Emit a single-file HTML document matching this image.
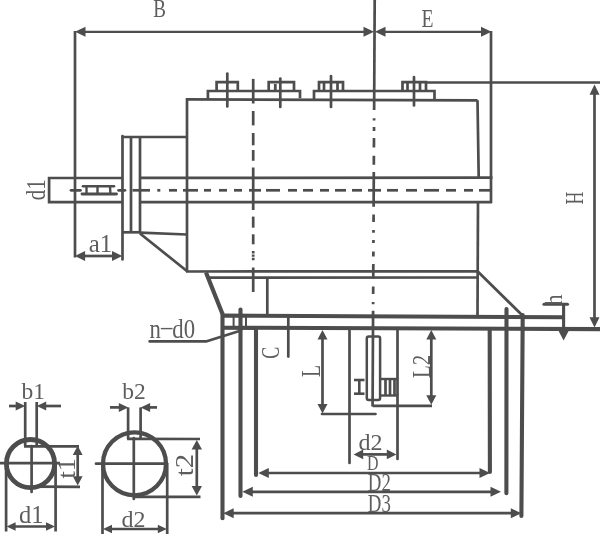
<!DOCTYPE html>
<html><head><meta charset="utf-8"><title>drawing</title>
<style>
html,body{margin:0;padding:0;background:#ffffff;}
body{width:600px;height:541px;overflow:hidden;font-family:"Liberation Serif",serif;}
svg{display:block}
svg text{font-family:"Liberation Serif",serif;}
</style></head><body>
<svg width="600" height="541" viewBox="0 0 600 541">
<rect width="600" height="541" fill="#ffffff"/>
<g stroke="#4d4d4d" fill="none">
<line x1="84.5" y1="31.8" x2="364.5" y2="31.8" stroke-width="2.3"/>
<polygon points="75,31.8 85.5,26.8 85.5,36.8" fill="#4d4d4d" stroke="none"/>
<polygon points="374,31.8 363.5,36.8 363.5,26.8" fill="#4d4d4d" stroke="none"/>
<line x1="384.5" y1="31.8" x2="482.0" y2="31.8" stroke-width="2.3"/>
<polygon points="375,31.8 385.5,26.8 385.5,36.8" fill="#4d4d4d" stroke="none"/>
<polygon points="491.5,31.8 481.0,36.8 481.0,26.8" fill="#4d4d4d" stroke="none"/>
<line x1="75" y1="31" x2="75" y2="257.5" stroke-width="2.7"/>
<line x1="491" y1="31" x2="491" y2="203" stroke-width="2.7"/>
<line x1="426" y1="82.5" x2="600" y2="82.5" stroke-width="2.7"/>
<line x1="594.5" y1="92" x2="594.5" y2="319" stroke-width="2.7"/>
<polygon points="594.5,84.4 599.5,94.7 589.5,94.7" fill="#4d4d4d" stroke="none"/>
<polygon points="594.5,327.5 589.5,317.2 599.5,317.2" fill="#4d4d4d" stroke="none"/>
<polyline points="216.6,91.0 216.6,82.2 237.8,82.2 237.8,91.0" fill="none" stroke-width="2.7" stroke-linejoin="miter" stroke-linecap="butt"/>
<line x1="227.3" y1="73.5" x2="227.3" y2="106.5" stroke-width="2.7" stroke-linecap="round"/>
<polyline points="268.7,91.0 268.7,82.2 294,82.2 294,91.0" fill="none" stroke-width="2.7" stroke-linejoin="miter" stroke-linecap="butt"/>
<line x1="275.3" y1="84" x2="275.3" y2="91" stroke-width="2.8"/>
<line x1="280.3" y1="78.5" x2="280.3" y2="107" stroke-width="2.7" stroke-linecap="round"/>
<polyline points="207.9,99.5 207.9,91.0 300,91.0 300,98.3" fill="none" stroke-width="2.7" stroke-linejoin="miter" stroke-linecap="butt"/>
<polyline points="319,91.0 319,82.2 343,82.2 343,91.0" fill="none" stroke-width="2.7" stroke-linejoin="miter" stroke-linecap="butt"/>
<line x1="324" y1="82.2" x2="324" y2="91.0" stroke-width="2.7"/>
<line x1="337.5" y1="82.2" x2="337.5" y2="91.0" stroke-width="2.7"/>
<line x1="331" y1="76" x2="331" y2="107" stroke-width="2.7" stroke-linecap="round"/>
<polyline points="402.5,91.0 402.5,82.2 426,82.2 426,91.0" fill="none" stroke-width="2.7" stroke-linejoin="miter" stroke-linecap="butt"/>
<line x1="407.5" y1="82.2" x2="407.5" y2="91.0" stroke-width="2.7"/>
<line x1="420" y1="82.2" x2="420" y2="91.0" stroke-width="2.7"/>
<line x1="414" y1="77" x2="414" y2="105.5" stroke-width="2.7" stroke-linecap="round"/>
<polyline points="314,99.5 314,91.0 434.5,91.0 434.5,100.3" fill="none" stroke-width="2.7" stroke-linejoin="miter" stroke-linecap="butt"/>
<line x1="186" y1="99.4" x2="477.5" y2="100.3" stroke-width="2.7"/>
<line x1="187" y1="98.2" x2="187" y2="271.5" stroke-width="2.7"/>
<polyline points="477.5,100.3 478.7,177" fill="none" stroke-width="2.7" stroke-linejoin="miter" stroke-linecap="butt"/>
<line x1="478" y1="203" x2="477.5" y2="315" stroke-width="2.7"/>
<line x1="186" y1="271.5" x2="478.5" y2="271.3" stroke-width="2.7"/>
<line x1="208" y1="277.7" x2="477.5" y2="277.5" stroke-width="2.7"/>
<line x1="267.3" y1="278" x2="267.3" y2="314" stroke-width="2.7"/>
<polyline points="122.5,178 49.1,178 49.1,202.2 122.5,202.2" fill="none" stroke-width="2.7" stroke-linejoin="miter" stroke-linecap="butt"/>
<line x1="140" y1="177.9" x2="492.5" y2="177.7" stroke-width="2.7"/>
<line x1="140" y1="202.2" x2="492" y2="202.1" stroke-width="2.7"/>
<line x1="83" y1="186.3" x2="114" y2="186.3" stroke-width="2.6" stroke-linecap="round"/>
<line x1="82" y1="194" x2="116.5" y2="194" stroke-width="2.9" stroke-linecap="round"/>
<line x1="86.5" y1="186" x2="86.5" y2="194" stroke-width="2.4"/>
<line x1="97.5" y1="186" x2="97.5" y2="194" stroke-width="2.4"/>
<line x1="110" y1="186" x2="110.4" y2="194" stroke-width="2.4"/>
<line x1="71" y1="190.3" x2="80.5" y2="190.3" stroke-width="2.7" stroke-linecap="round"/>
<line x1="118.5" y1="190.3" x2="125" y2="190.3" stroke-width="2.7" stroke-linecap="round"/>
<line x1="132.5" y1="190.3" x2="150" y2="190.3" stroke-width="2.7"/>
<line x1="157.3" y1="190.3" x2="160.3" y2="190.3" stroke-width="2.7"/>
<line x1="169" y1="190.3" x2="177" y2="190.3" stroke-width="2.7"/>
<line x1="183" y1="190.3" x2="198" y2="190.3" stroke-width="2.7"/>
<line x1="204" y1="190.3" x2="211" y2="190.3" stroke-width="2.7"/>
<line x1="219" y1="190.3" x2="227" y2="190.3" stroke-width="2.7"/>
<line x1="234" y1="190.3" x2="242" y2="190.3" stroke-width="2.7"/>
<line x1="249" y1="190.3" x2="261" y2="190.3" stroke-width="2.7"/>
<line x1="266" y1="190.3" x2="280" y2="190.3" stroke-width="2.7"/>
<line x1="288" y1="190.3" x2="297" y2="190.3" stroke-width="2.7"/>
<line x1="303" y1="190.3" x2="313" y2="190.3" stroke-width="2.7"/>
<line x1="320" y1="190.3" x2="329" y2="190.3" stroke-width="2.7"/>
<line x1="335" y1="190.3" x2="346" y2="190.3" stroke-width="2.7"/>
<line x1="352" y1="190.3" x2="362" y2="190.3" stroke-width="2.7"/>
<line x1="368" y1="190.3" x2="381" y2="190.3" stroke-width="2.7"/>
<line x1="387" y1="190.3" x2="398" y2="190.3" stroke-width="2.7"/>
<line x1="406" y1="190.3" x2="417" y2="190.3" stroke-width="2.7"/>
<line x1="424" y1="190.3" x2="439" y2="190.3" stroke-width="2.7"/>
<line x1="446" y1="190.3" x2="456" y2="190.3" stroke-width="2.7"/>
<line x1="464" y1="190.3" x2="473" y2="190.3" stroke-width="2.7"/>
<line x1="479" y1="190.3" x2="491" y2="190.3" stroke-width="2.7"/>
<line x1="122.5" y1="136" x2="122.5" y2="259.5" stroke-width="2.7" stroke-linecap="round"/>
<line x1="131" y1="137" x2="131" y2="232" stroke-width="2.7"/>
<line x1="140" y1="137" x2="140" y2="233.5" stroke-width="2.7"/>
<line x1="121.5" y1="137" x2="187" y2="137" stroke-width="2.7"/>
<line x1="122.5" y1="232.3" x2="140" y2="232.3" stroke-width="2.7"/>
<line x1="140" y1="232.6" x2="187" y2="234.5" stroke-width="2.7"/>
<line x1="140" y1="233.5" x2="187.5" y2="271.5" stroke-width="2.7"/>
<line x1="84.1" y1="256" x2="113.0" y2="256" stroke-width="2.7"/>
<polygon points="74.8,256 85.1,251.1 85.1,260.9" fill="#4d4d4d" stroke="none"/>
<polygon points="122.3,256 112.0,260.9 112.0,251.1" fill="#4d4d4d" stroke="none"/>
<line x1="253.2" y1="78.9" x2="253.2" y2="103.5" stroke-width="2.7"/>
<line x1="253.2" y1="111" x2="253.2" y2="125.4" stroke-width="2.7"/>
<line x1="253.2" y1="133" x2="253.2" y2="145.3" stroke-width="2.7"/>
<line x1="253.2" y1="150" x2="253.2" y2="160.8" stroke-width="2.7"/>
<line x1="253.2" y1="167.5" x2="253.2" y2="210" stroke-width="2.7"/>
<line x1="253.2" y1="216.6" x2="253.2" y2="227.7" stroke-width="2.7"/>
<line x1="253.2" y1="234.3" x2="253.2" y2="244.3" stroke-width="2.7"/>
<line x1="253.2" y1="267.5" x2="253.2" y2="292" stroke-width="2.7"/>
<line x1="253.2" y1="251" x2="253.2" y2="261" stroke-width="2.7" stroke-dasharray="2.4 1"/>
<line x1="374.7" y1="0" x2="374.13" y2="110" stroke-width="2.7"/>
<line x1="374.09" y1="118.2" x2="374.07" y2="120.4" stroke-width="2.7"/>
<line x1="374.04" y1="127" x2="374.02" y2="131" stroke-width="2.7"/>
<line x1="373.98" y1="138" x2="373.93" y2="147.6" stroke-width="2.7"/>
<line x1="373.89" y1="155.8" x2="373.84" y2="164.7" stroke-width="2.7"/>
<line x1="373.81" y1="172" x2="373.62" y2="206.8" stroke-width="2.7"/>
<line x1="373.59" y1="214.4" x2="373.55" y2="222" stroke-width="2.7"/>
<line x1="373.5" y1="230" x2="373.49" y2="232.8" stroke-width="2.7"/>
<line x1="373.45" y1="240" x2="373.44" y2="243" stroke-width="2.7"/>
<line x1="373.39" y1="251.4" x2="373.37" y2="256.5" stroke-width="2.7"/>
<line x1="373.33" y1="264" x2="373.25" y2="278.6" stroke-width="2.7"/>
<line x1="373.21" y1="286.4" x2="373.17" y2="294" stroke-width="2.7"/>
<line x1="373.13" y1="302" x2="373.12" y2="304.2" stroke-width="2.7"/>
<line x1="373.08" y1="310.8" x2="372.59" y2="406.5" stroke-width="2.7"/>
<line x1="206" y1="272.5" x2="222.5" y2="314" stroke-width="4.2"/>
<line x1="477.5" y1="271.3" x2="522.5" y2="315.5" stroke-width="2.8"/>
<line x1="221" y1="315.6" x2="565" y2="317.2" stroke-width="4.1"/>
<line x1="221" y1="327.7" x2="600" y2="329.1" stroke-width="4.1"/>
<line x1="233.6" y1="315" x2="233.6" y2="328" stroke-width="2"/>
<line x1="246" y1="315" x2="246" y2="328" stroke-width="2"/>
<line x1="222.5" y1="314" x2="222.5" y2="518.2" stroke-width="4.1" stroke-linecap="round"/>
<line x1="240.5" y1="309.5" x2="240.5" y2="496" stroke-width="4.1" stroke-linecap="round"/>
<line x1="256" y1="330" x2="256" y2="475" stroke-width="4.1" stroke-linecap="round"/>
<line x1="489.7" y1="330" x2="489.9" y2="472" stroke-width="4.1" stroke-linecap="round"/>
<line x1="506.5" y1="309" x2="506.4" y2="493.3" stroke-width="4.1" stroke-linecap="round"/>
<line x1="522.7" y1="315" x2="521.4" y2="516" stroke-width="4.1" stroke-linecap="round"/>
<line x1="267.8" y1="473" x2="480.5" y2="473" stroke-width="2.7"/>
<polygon points="258.3,473 268.8,468.0 268.8,478.0" fill="#4d4d4d" stroke="none"/>
<polygon points="490,473 479.5,478.0 479.5,468.0" fill="#4d4d4d" stroke="none"/>
<line x1="251.8" y1="491.8" x2="491.5" y2="491.8" stroke-width="2.7"/>
<polygon points="242.3,491.8 252.8,486.8 252.8,496.8" fill="#4d4d4d" stroke="none"/>
<polygon points="501,491.8 490.5,496.8 490.5,486.8" fill="#4d4d4d" stroke="none"/>
<line x1="232.7" y1="513.2" x2="511.8" y2="513.2" stroke-width="2.7"/>
<polygon points="223.2,513.2 233.7,508.2 233.7,518.2" fill="#4d4d4d" stroke="none"/>
<polygon points="521.3,513.2 510.8,518.2 510.8,508.2" fill="#4d4d4d" stroke="none"/>
<polyline points="149.6,341.4 206,341.4 241,330.5" fill="none" stroke-width="2.6" stroke-linejoin="round" stroke-linecap="round"/>
<line x1="288.3" y1="317" x2="288.3" y2="356.6" stroke-width="2.7" stroke-linecap="round"/>
<line x1="322.5" y1="338.5" x2="322.5" y2="405.0" stroke-width="2.7"/>
<polygon points="322.5,330 327.5,339.5 317.5,339.5" fill="#4d4d4d" stroke="none"/>
<polygon points="322.5,413.5 317.5,404.0 327.5,404.0" fill="#4d4d4d" stroke="none"/>
<line x1="322" y1="414" x2="375.5" y2="414" stroke-width="2.7" stroke-linecap="round"/>
<line x1="349.5" y1="328" x2="349.5" y2="463" stroke-width="2.7" stroke-linecap="round"/>
<line x1="397.5" y1="328" x2="397.5" y2="459" stroke-width="2.7" stroke-linecap="round"/>
<line x1="362.2" y1="454.4" x2="387.8" y2="454.4" stroke-width="2.7"/>
<polygon points="353.6,454.4 363.2,449.5 363.2,459.3" fill="#4d4d4d" stroke="none"/>
<polygon points="396.4,454.4 386.8,459.3 386.8,449.5" fill="#4d4d4d" stroke="none"/>
<rect x="366.8" y="336.6" width="13.3" height="63.4" rx="2" fill="none" stroke-width="2.5"/>
<line x1="372.7" y1="405.9" x2="432" y2="405.9" stroke-width="2.7"/>
<line x1="354" y1="380" x2="364.5" y2="380" stroke-width="2.6"/>
<line x1="354" y1="393.7" x2="364.5" y2="393.7" stroke-width="2.6"/>
<line x1="359.3" y1="380" x2="359.3" y2="393.7" stroke-width="2.6"/>
<line x1="380" y1="379" x2="397.5" y2="379" stroke-width="2.4"/>
<line x1="380" y1="395.5" x2="397.5" y2="395.5" stroke-width="2.4"/>
<line x1="385.5" y1="379" x2="385.5" y2="395.5" stroke-width="2.7"/>
<line x1="390" y1="379" x2="390" y2="395.5" stroke-width="2.7"/>
<line x1="394.5" y1="379" x2="394.5" y2="395.5" stroke-width="2.7"/>
<line x1="431.3" y1="338.5" x2="431.3" y2="396.2" stroke-width="2.7"/>
<polygon points="431.3,330 436.3,339.5 426.3,339.5" fill="#4d4d4d" stroke="none"/>
<polygon points="431.3,404.7 426.3,395.2 436.3,395.2" fill="#4d4d4d" stroke="none"/>
<line x1="544" y1="304.2" x2="567.5" y2="304.2" stroke-width="3.1" stroke-linecap="round"/>
<line x1="563.6" y1="304" x2="563.6" y2="332" stroke-width="3.1"/>
<polygon points="563.6,340.5 558.6,331.0 568.6,331.0" fill="#4d4d4d" stroke="none"/>
<circle cx="30.5" cy="463.6" r="24.1" fill="none" stroke-width="4.8"/>
<line x1="25.2" y1="402" x2="25.2" y2="446.3" stroke-width="2.7"/>
<line x1="36.7" y1="402" x2="36.7" y2="446.3" stroke-width="2.7"/>
<line x1="24" y1="446.3" x2="79" y2="446.4" stroke-width="2.7"/>
<line x1="9" y1="406" x2="17" y2="406" stroke-width="2.7"/>
<polygon points="25.2,406 15.7,410.5 15.7,401.5" fill="#4d4d4d" stroke="none"/>
<line x1="45" y1="406" x2="61" y2="406" stroke-width="2.7"/>
<polygon points="36.7,406 46.2,401.5 46.2,410.5" fill="#4d4d4d" stroke="none"/>
<line x1="0" y1="463.2" x2="60" y2="463.2" stroke-width="2.7"/>
<line x1="31.6" y1="446" x2="31.6" y2="492" stroke-width="2.7" stroke-linecap="round"/>
<line x1="35.7" y1="486.6" x2="80" y2="486.9" stroke-width="2.7"/>
<line x1="77.7" y1="454.0" x2="77.7" y2="477.3" stroke-width="2.7"/>
<polygon points="77.7,445.8 82.6,455.0 72.8,455.0" fill="#4d4d4d" stroke="none"/>
<polygon points="77.7,485.5 72.8,476.3 82.6,476.3" fill="#4d4d4d" stroke="none"/>
<line x1="6.1" y1="463" x2="6.1" y2="531.5" stroke-width="2.7"/>
<line x1="55.6" y1="463" x2="55.6" y2="531.5" stroke-width="2.7"/>
<line x1="14.6" y1="526.5" x2="47" y2="526.5" stroke-width="2.7"/>
<polygon points="6.6,526.5 15.6,522.2 15.6,530.8" fill="#4d4d4d" stroke="none"/>
<polygon points="55,526.5 46.0,530.8 46.0,522.2" fill="#4d4d4d" stroke="none"/>
<circle cx="134.5" cy="463.8" r="31.5" fill="none" stroke-width="4.3"/>
<line x1="128.1" y1="407.4" x2="128.1" y2="438.9" stroke-width="2.7"/>
<line x1="140.6" y1="407.4" x2="140.6" y2="438.9" stroke-width="2.7"/>
<line x1="127.1" y1="438.9" x2="200" y2="439" stroke-width="2.7"/>
<line x1="110" y1="407.4" x2="120" y2="407.4" stroke-width="2.7"/>
<polygon points="128.3,407.4 118.8,411.9 118.8,402.9" fill="#4d4d4d" stroke="none"/>
<line x1="149" y1="407.4" x2="157" y2="407.4" stroke-width="2.7"/>
<polygon points="140.6,407.4 150.1,402.9 150.1,411.9" fill="#4d4d4d" stroke="none"/>
<line x1="96" y1="463.7" x2="166" y2="463.7" stroke-width="2.7" stroke-linecap="round"/>
<line x1="133.8" y1="438" x2="133.8" y2="499" stroke-width="2.7" stroke-linecap="round"/>
<line x1="134.7" y1="496.9" x2="200.5" y2="496.9" stroke-width="2.7"/>
<line x1="196.8" y1="448.5" x2="196.8" y2="487.0" stroke-width="2.7"/>
<polygon points="196.8,440 202.0,449.5 191.6,449.5" fill="#4d4d4d" stroke="none"/>
<polygon points="196.8,495.5 191.6,486.0 202.0,486.0" fill="#4d4d4d" stroke="none"/>
<line x1="102.5" y1="463" x2="102.5" y2="534" stroke-width="2.7"/>
<line x1="167.2" y1="463" x2="167.2" y2="534" stroke-width="2.7"/>
<line x1="111" y1="529" x2="158.8" y2="529" stroke-width="2.7"/>
<polygon points="103,529 112.0,524.7 112.0,533.3" fill="#4d4d4d" stroke="none"/>
<polygon points="166.8,529 157.8,533.3 157.8,524.7" fill="#4d4d4d" stroke="none"/>
</g>
<g fill="#5c5c5c" opacity="0.99">
<text x="153.2" y="16.8" font-size="26" text-anchor="start" textLength="12.7" lengthAdjust="spacingAndGlyphs">B</text>
<text x="421.5" y="26.7" font-size="25" text-anchor="start" textLength="12" lengthAdjust="spacingAndGlyphs">E</text>
<text x="88.7" y="251.9" font-size="24.5" text-anchor="start" textLength="23.5" lengthAdjust="spacingAndGlyphs">a1</text>
<text x="149.6" y="338" font-size="27" text-anchor="start" textLength="45.5" lengthAdjust="spacingAndGlyphs">n<tspan dy="-3.2">–</tspan><tspan dy="3.2">d0</tspan></text>
<text x="358.5" y="450" font-size="24" text-anchor="start" textLength="24" lengthAdjust="spacingAndGlyphs">d2</text>
<text x="367" y="470" font-size="22" text-anchor="start" textLength="11.5" lengthAdjust="spacingAndGlyphs">D</text>
<text x="367.8" y="490.7" font-size="24.3" text-anchor="start" textLength="23" lengthAdjust="spacingAndGlyphs">D2</text>
<text x="367.8" y="511.9" font-size="25" text-anchor="start" textLength="23" lengthAdjust="spacingAndGlyphs">D3</text>
<text x="21.5" y="399" font-size="24" text-anchor="start" textLength="23.5" lengthAdjust="spacingAndGlyphs">b1</text>
<text x="19" y="522.7" font-size="24.5" text-anchor="start" textLength="24.5" lengthAdjust="spacingAndGlyphs">d1</text>
<text x="122.3" y="398.5" font-size="22.5" text-anchor="start" textLength="23.5" lengthAdjust="spacingAndGlyphs">b2</text>
<text x="121.5" y="526.8" font-size="24" text-anchor="start" textLength="24" lengthAdjust="spacingAndGlyphs">d2</text>
<text x="582.7" y="204.5" font-size="25" text-anchor="start" textLength="12.8" lengthAdjust="spacingAndGlyphs" transform="rotate(-90 582.7 204.5)">H</text>
<text x="562" y="305.6" font-size="25" text-anchor="start" textLength="11" lengthAdjust="spacingAndGlyphs" transform="rotate(-90 562 305.6)">h</text>
<text x="45.1" y="200.3" font-size="27" text-anchor="start" textLength="21" lengthAdjust="spacingAndGlyphs" transform="rotate(-90 45.1 200.3)">d1</text>
<text x="279" y="358.8" font-size="26" text-anchor="start" textLength="12" lengthAdjust="spacingAndGlyphs" transform="rotate(-90 279 358.8)">C</text>
<text x="320.1" y="377" font-size="27" text-anchor="start" textLength="12" lengthAdjust="spacingAndGlyphs" transform="rotate(-90 320.1 377)">L</text>
<text x="430" y="378" font-size="26" text-anchor="start" textLength="23.3" lengthAdjust="spacingAndGlyphs" transform="rotate(-90 430 378)">L2</text>
<text x="75" y="478.5" font-size="24.7" text-anchor="start" textLength="20.5" lengthAdjust="spacingAndGlyphs" transform="rotate(-90 75 478.5)">t1</text>
<text x="193.4" y="476.2" font-size="24.5" text-anchor="start" textLength="22.5" lengthAdjust="spacingAndGlyphs" transform="rotate(-90 193.4 476.2)">t2</text>
</g>
</svg>
</body></html>
